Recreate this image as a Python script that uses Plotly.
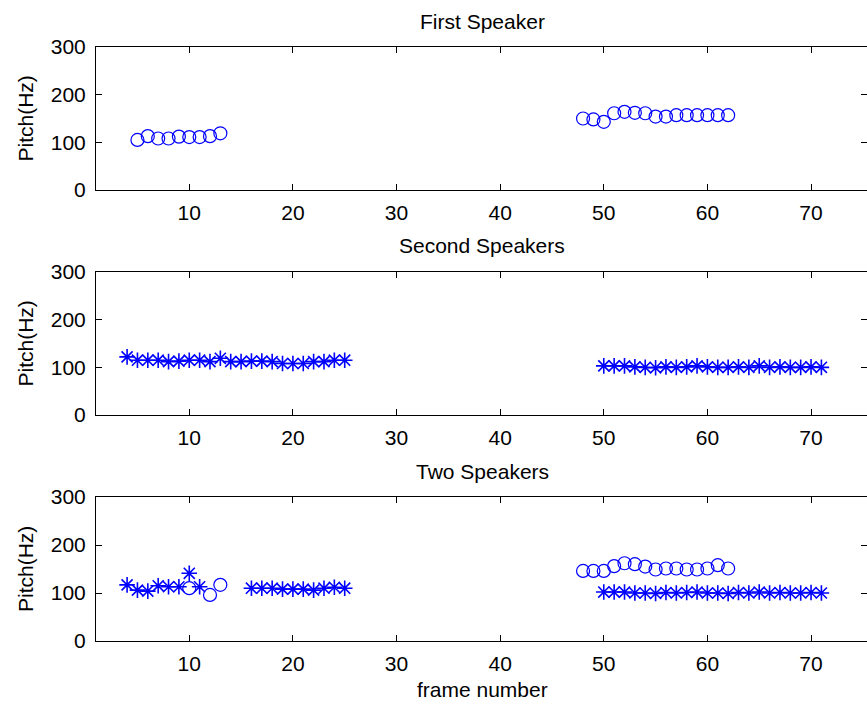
import plotly.graph_objects as go

# ---- data ----
s1_frames_a = [5, 6, 7, 8, 9, 10, 11, 12, 13]
s1_pitch_a = [105, 113, 108, 108, 112, 111, 111, 113, 119]
s1_frames_b = list(range(48, 63))
s1_pitch_b = [150, 148, 143, 161, 164, 162, 161, 154, 154, 157, 157, 157, 157, 157, 157]

s2_frames_a = list(range(4, 26))
s2_pitch_a = [122, 115, 115, 115, 112, 113, 115, 115, 112, 119, 112, 112,
              113, 113, 112, 108, 108, 108, 112, 112, 115, 115]
s2_frames_b = list(range(50, 72))
s2_pitch_b = [103, 103, 103, 101, 100, 99, 101, 100, 101, 103, 101,
              100, 100, 101, 100, 103, 100, 101, 100, 100, 101, 100]

mix_star_frames = [4, 5, 6, 7, 8, 9, 10, 11] + list(range(16, 26)) + list(range(50, 72))
mix_star_pitch = [117, 106, 104, 115, 113, 113, 141, 113,
                  110, 110, 110, 108, 108, 108, 106, 110, 112, 110,
                  102, 102, 102, 100, 100, 99, 101, 100, 101, 102, 100,
                  100, 99, 101, 100, 102, 100, 101, 100, 100, 101, 100]
mix_circ_frames = [10, 12, 13] + list(range(48, 63))
mix_circ_pitch = [110, 96, 117,
                  146, 146, 146, 156, 162, 160, 155, 149, 151, 151, 149, 149, 151, 158, 151]

titles = ["First Speaker", "Second Speakers", "Two Speakers"]
x_ticks = [10, 20, 30, 40, 50, 60, 70]
y_ticks = [0, 100, 200, 300]

BLUE = "rgb(0,0,255)"
FONT = "Liberation Sans, Arial, sans-serif"
FS = 21

fig = go.Figure()

def circles(x, y, ax):
    fig.add_trace(go.Scatter(x=x, y=y, mode="markers", xaxis="x" + ax, yaxis="y" + ax,
                             marker=dict(symbol="circle-open", size=13, color=BLUE,
                                         line=dict(width=1.2, color=BLUE)),
                             showlegend=False))

def stars(x, y, ax):
    fig.add_trace(go.Scatter(x=x, y=y, mode="markers", xaxis="x" + ax, yaxis="y" + ax,
                             marker=dict(symbol="asterisk-open", size=13, color=BLUE,
                                         line=dict(width=1.6, color=BLUE)),
                             showlegend=False))

circles(s1_frames_a, s1_pitch_a, "")
circles(s1_frames_b, s1_pitch_b, "")
stars(s2_frames_a, s2_pitch_a, "2")
stars(s2_frames_b, s2_pitch_b, "2")
stars(mix_star_frames, mix_star_pitch, "3")
circles(mix_circ_frames, mix_circ_pitch, "3")

L, R, T, B = 96, 0, 47, 63
H = 704 - T - B
W = 867 - L - R

def frac(top_px, bot_px):
    return [1 - (bot_px - T) / H, 1 - (top_px - T) / H]

domains = [frac(47, 190), frac(272, 415), frac(497, 641)]

axis_common = dict(showline=True, linecolor="black", linewidth=1, mirror="ticks",
                   ticks="inside", ticklen=6, tickcolor="black", showgrid=False,
                   zeroline=False, tickfont=dict(family=FONT, size=FS, color="black"))

layout = dict(width=867, height=704, margin=dict(l=L, r=R, t=T, b=B),
              plot_bgcolor="white", paper_bgcolor="white", showlegend=False)

annotations = []
for i, dom in enumerate(domains):
    sx = "" if i == 0 else str(i + 1)
    layout["xaxis" + sx] = dict(axis_common, domain=[0, 1], range=[1, 75.4],
                                tickvals=x_ticks, anchor="y" + sx, ticklabelstandoff=4)
    layout["yaxis" + sx] = dict(axis_common, domain=dom, range=[0, 300],
                                tickvals=y_ticks, anchor="x" + sx, ticklabelstandoff=5)
    annotations.append(dict(text=titles[i], xref="paper", yref="paper",
                            x=(482 - L) / W, y=dom[1] + 26 / H, xanchor="center",
                            yanchor="middle", showarrow=False,
                            font=dict(family=FONT, size=FS, color="black")))
    annotations.append(dict(text="Pitch(Hz)", xref="paper", yref="paper",
                            x=(25 - L) / W, y=(dom[0] + dom[1]) / 2, xanchor="center",
                            yanchor="middle", textangle=-90, showarrow=False,
                            font=dict(family=FONT, size=FS, color="black")))

annotations.append(dict(text="frame number", xref="paper", yref="paper",
                        x=(482 - L) / W, y=-(690 - 641) / H, xanchor="center",
                        yanchor="middle", showarrow=False,
                        font=dict(family=FONT, size=FS, color="black")))
layout["annotations"] = annotations
fig.update_layout(**layout)

fig.write_html("out.html")
